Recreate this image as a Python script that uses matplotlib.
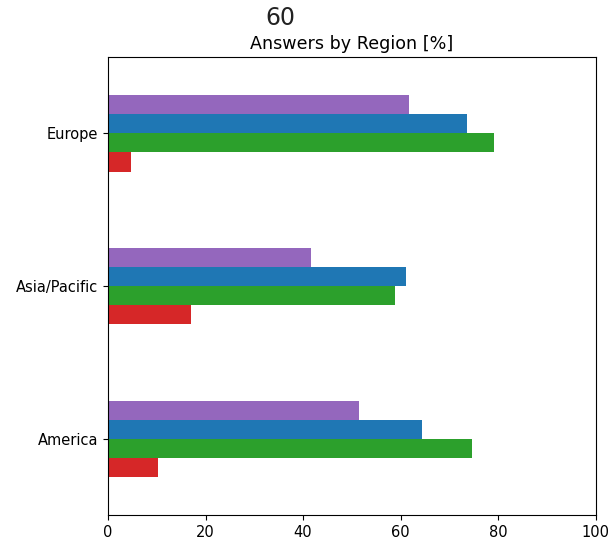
import numpy as np
import pandas as pd
import matplotlib
matplotlib.use("Agg")
import matplotlib.pyplot as plt

plt.rcParams["font.size"] = 10.5

regions = ["America", "Asia/Pacific", "Europe"]
red_vals = [10.3, 17.1, 4.7]
green_vals = [74.6, 58.8, 79.2]
blue_vals = [64.3, 61.2, 73.6]
purple_vals = [51.5, 41.6, 61.7]

df = pd.DataFrame({"a": red_vals, "b": green_vals, "c": blue_vals, "d": purple_vals},
                  index=regions)

fig = plt.figure(figsize=(6.15, 5.4), dpi=100)
ax = fig.add_axes([0.1756, 0.0463, 0.7930, 0.8481])
df.plot.barh(ax=ax, color=["tab:red", "tab:green", "tab:blue", "tab:purple"], legend=False)
ax.set_xlim(0, 100)
ax.set_title("Answers by Region [%]")
# stray label above the title
fig.text(0.456, 0.967, "60", fontsize=17, ha="center", va="center", color="#222222")

fig.savefig("out.png", dpi=100)
